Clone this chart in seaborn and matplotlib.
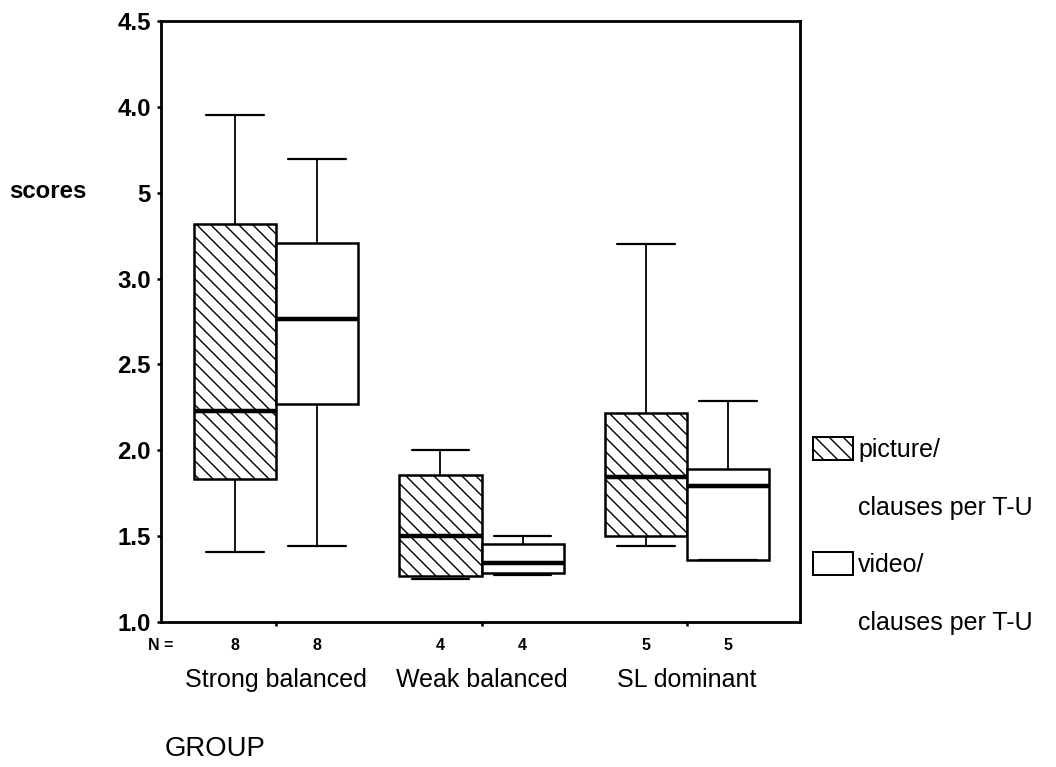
import numpy as np
import pandas as pd
import matplotlib
matplotlib.use("Agg")
import matplotlib.pyplot as plt
from matplotlib.patches import Patch
from matplotlib.transforms import blended_transform_factory
import seaborn as sns

# ---- data: five-number summaries per group (whisker low, Q1, median, Q3, whisker high)
groups = ["Strong balanced", "Weak balanced", "SL dominant"]
tasks = ["picture", "video"]

picture_low = [1.41, 1.25, 1.44]
picture_q1 = [1.83, 1.265, 1.50]
picture_med = [2.23, 1.50, 1.845]
picture_q3 = [3.32, 1.855, 2.22]
picture_high = [3.95, 2.00, 3.20]

video_low = [1.44, 1.275, 1.36]
video_q1 = [2.27, 1.285, 1.36]
video_med = [2.765, 1.345, 1.79]
video_q3 = [3.21, 1.455, 1.89]
video_high = [3.695, 1.50, 2.285]

n_picture = [8, 4, 5]
n_video = [8, 4, 5]

y_ticks = [1.0, 1.5, 2.0, 2.5, 3.0, 3.5, 4.0, 4.5]
y_tick_labels = ["1.0", "1.5", "2.0", "2.5", "3.0", "5", "4.0", "4.5"]
legend_labels = ["picture/", "clauses per T-U", "video/", "clauses per T-U"]

# ---- figure geometry (pixels) ----
DPI = 84
W, H = 1056, 767
PT = 72 / DPI  # points per pixel

sns.set_style("ticks")
plt.rcParams["font.family"] = ["Liberation Sans", "DejaVu Sans"]
plt.rcParams["text.color"] = "black"
plt.rcParams["axes.labelcolor"] = "black"
plt.rcParams["xtick.color"] = "black"
plt.rcParams["ytick.color"] = "black"
plt.rcParams["hatch.linewidth"] = 1.4 * PT
plt.rcParams["hatch.color"] = "black"

summaries = {
    "picture": (picture_low, picture_q1, picture_med, picture_q3, picture_high),
    "video": (video_low, video_q1, video_med, video_q3, video_high),
}
rows = []
for task in tasks:
    cols = summaries[task]
    for i, g in enumerate(groups):
        for col in cols:
            rows.append({"group": g, "task": task, "score": col[i]})
df = pd.DataFrame(rows)

fig = plt.figure(figsize=(W / DPI, H / DPI), dpi=DPI)
ax = fig.add_axes([161 / W, 1 - 622 / H, (800 - 161) / W, (622 - 21) / H])

sns.boxplot(
    data=df, x="group", y="score", hue="task",
    order=groups, hue_order=tasks,
    palette={"picture": "white", "video": "white"},
    linecolor="black", linewidth=2.5 * PT,
    width=0.8, gap=0, whis=(0, 100), dodge=True, legend=False, ax=ax,
    medianprops={"linewidth": 4.5 * PT},
    whiskerprops={"linewidth": 1.8 * PT},
    capprops={"linewidth": 2.2 * PT},
)

HATCH = "\\\\"
for patch in ax.patches:
    xs = patch.get_path().vertices[:, 0]
    xc = (xs.min() + xs.max()) / 2
    if xc < round(xc):
        patch.set_hatch(HATCH)

# widen the whisker caps
for line in ax.lines:
    xd = np.asarray(line.get_xdata(), dtype=float)
    yd = np.asarray(line.get_ydata(), dtype=float)
    if len(xd) == 2 and yd[0] == yd[1]:
        span = xd[1] - xd[0]
        if 0.15 < abs(span) < 0.25:
            c = xd.mean()
            line.set_xdata([c - 0.14, c + 0.14])

ax.set_xlim(-0.56, 2.55)
ax.set_ylim(1.0, 4.5)
ax.set_yticks(y_ticks, y_tick_labels)
ax.set_xlabel("")
ax.set_ylabel("")
for lab in ax.get_yticklabels():
    lab.set_fontweight("bold")
    lab.set_fontsize(24 * PT)
ax.tick_params(axis="y", length=4 * PT, width=2.5 * PT, pad=6 * PT)
ax.tick_params(axis="x", length=4 * PT, width=2.5 * PT, pad=42 * PT,
               labelsize=25 * PT)
for s in ax.spines.values():
    s.set_linewidth(2.8 * PT)
    s.set_color("black")

# sample sizes under each box
trans = blended_transform_factory(ax.transData, fig.transFigure)
for i in range(len(groups)):
    for j, n in enumerate((n_picture[i], n_video[i])):
        ax.text(i + (j - 0.5) * 0.4, 1 - 645 / H, str(n), transform=trans,
                ha="center", va="center", fontsize=16 * PT, fontweight="bold")
fig.text(161 / W, 1 - 645 / H, "N =", ha="center", va="center",
         fontsize=16 * PT, fontweight="bold")

fig.text(48 / W, 1 - 191 / H, "scores", ha="center", va="center",
         fontsize=24 * PT, fontweight="bold")
fig.text(165 / W, 1 - 749 / H, "GROUP", ha="left", va="center",
         fontsize=27.5 * PT)

handles = [
    Patch(facecolor="white", edgecolor="black", hatch=HATCH, linewidth=2 * PT),
    Patch(facecolor="none", edgecolor="none"),
    Patch(facecolor="white", edgecolor="black", linewidth=2 * PT),
    Patch(facecolor="none", edgecolor="none"),
]
fig.legend(handles, legend_labels, loc="upper left",
           bbox_to_anchor=(813 / W, 1 - 437 / H), frameon=False,
           fontsize=25 * PT, handlelength=40 / 25, handleheight=26 / 25,
           handletextpad=5 / 25, labelspacing=1.3, borderpad=0,
           borderaxespad=0)

fig.savefig("out.png", dpi=DPI)
